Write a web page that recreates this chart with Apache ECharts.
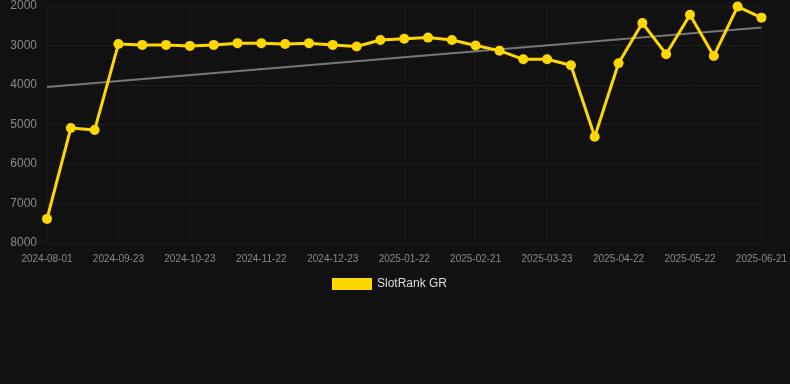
<!DOCTYPE html>
<html>
<head>
<meta charset="utf-8">
<script src="https://cdn.jsdelivr.net/npm/echarts@6/dist/echarts.min.js"></script>
<style>
html,body{margin:0;padding:0;background:#111111;}
#chart{width:790px;height:384px;}
</style>
</head>
<body>
<div id="chart"></div>
<script>
const dates = [
  '2024-08-01','2024-09-03','2024-09-13','2024-09-23','2024-10-03','2024-10-13','2024-10-23',
  '2024-11-02','2024-11-12','2024-11-22','2024-12-02','2024-12-12','2024-12-23','2025-01-02',
  '2025-01-12','2025-01-22','2025-02-01','2025-02-11','2025-02-21','2025-03-03','2025-03-13',
  '2025-03-23','2025-04-02','2025-04-12','2025-04-22','2025-05-02','2025-05-12','2025-05-22',
  '2025-06-01','2025-06-11','2025-06-21'
];
const rankValues = [
  7390, 5090, 5140, 2960, 2985, 2985, 3010, 2985, 2940, 2940, 2960,
  2940, 2985, 3025, 2860, 2830, 2800, 2860, 3000, 3130, 3350,
  3350, 3500, 5310, 3450, 2430, 3220, 2220, 3265, 2015, 2295
];
const trendValues = [4050, null, null, null, null, null, null, null, null, null, null,
  null, null, null, null, null, null, null, null, null, null,
  null, null, null, null, null, null, null, null, null, 2545];
const yTicks = {min: 2000, max: 8000, interval: 1000};
const seriesName = 'SlotRank GR';

const font = 'Liberation Sans, Arial, sans-serif';
const chart = echarts.init(document.getElementById('chart'));
chart.setOption({
  backgroundColor: '#111111',
  animation: false,
  grid: {left: 47, right: 28, top: 6, bottom: 141, containLabel: false},
  legend: {
    data: [seriesName],
    top: 278,
    left: 332,
    padding: 0,
    itemWidth: 40,
    itemHeight: 12,
    icon: 'rect',
    textStyle: {color: '#dddddd', fontSize: 12, fontFamily: font}
  },
  xAxis: {
    type: 'category',
    data: dates,
    boundaryGap: false,
    axisLine: {show: false},
    axisTick: {show: false},
    axisLabel: {interval: 2, color: '#8a8a8a', fontSize: 10, fontFamily: font, margin: 11},
    splitLine: {show: true, interval: 2, lineStyle: {color: '#191919', width: 1}}
  },
  yAxis: {
    type: 'value',
    inverse: true,
    min: yTicks.min,
    max: yTicks.max,
    interval: yTicks.interval,
    axisLine: {show: false},
    axisTick: {show: false},
    axisLabel: {color: '#8a8a8a', fontSize: 12, fontFamily: font, margin: 10,
      formatter: v => String(v)},
    splitLine: {lineStyle: {color: '#1d1d1d', width: 1}}
  },
  series: [
    {
      name: seriesName,
      type: 'line',
      data: rankValues,
      color: '#FFD700',
      lineStyle: {width: 3, color: '#FFD700'},
      symbol: 'circle',
      symbolSize: 10,
      itemStyle: {color: '#FFD700'},
      z: 3
    },
    {
      name: 'trend',
      type: 'line',
      data: trendValues,
      connectNulls: true,
      symbol: 'none',
      lineStyle: {width: 2, color: '#777777'},
      z: 2
    }
  ]
});
</script>
</body>
</html>
